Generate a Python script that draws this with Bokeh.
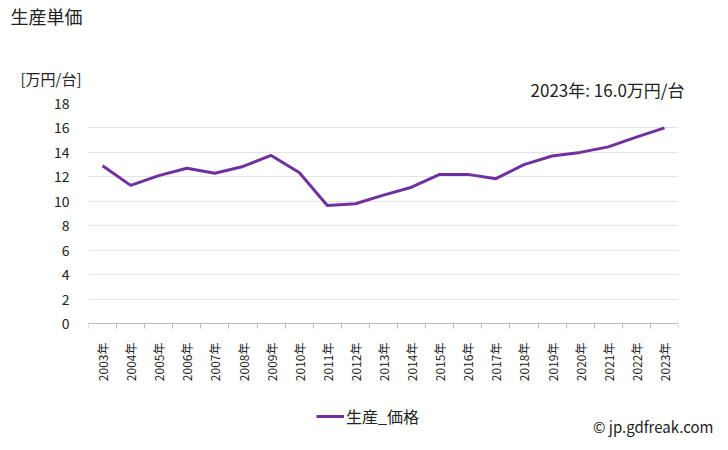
from bokeh.plotting import figure
from bokeh.models import (FixedTicker, Label, Legend, LegendItem, Range1d, ColumnDataSource)
from bokeh.embed import file_html
from bokeh.resources import INLINE
import math

years = list(range(2003, 2024))
year_labels = [f"{y}年" for y in years]
price = [12.9, 11.3, 12.1, 12.7, 12.3, 12.85, 13.75, 12.35, 9.65, 9.8,
         10.5, 11.15, 12.2, 12.2, 11.85, 13.0, 13.7, 14.0, 14.45, 15.25, 16.0]
y_ticks = [0, 2, 4, 6, 8, 10, 12, 14, 16, 18]

FONT = "Noto Sans CJK JP"
TXT = "#222222"
W, H = 728, 450
FL, FT, FB = 88, 103, 323  # plot area left, top, bottom (page pixels)
Y_TOP = 18
# the frame reaches the page bottom so that the legend below the axis stays visible
Y_MIN = -(H - FB) / ((FB - FT) / Y_TOP)

p = figure(width=W, height=H, output_backend="svg", toolbar_location=None,
           x_range=Range1d(years[0] - 0.5, years[-1] + 0.5),
           y_range=Range1d(Y_MIN, Y_TOP),
           min_border_left=FL, min_border_right=50, min_border_top=FT, min_border_bottom=0)
p.outline_line_color = None

src = ColumnDataSource(dict(x=years, y=price))
r = p.line("x", "y", source=src, line_color="#7030A0", line_width=3)

xa = p.xaxis[0]
xa.fixed_location = 0
xa.ticker = FixedTicker(ticks=years, minor_ticks=[y - 0.5 for y in years] + [years[-1] + 0.5])
xa.major_label_overrides = {y: l for y, l in zip(years, year_labels)}
xa.major_label_orientation = math.pi / 2
xa.major_tick_out = 0
xa.major_tick_in = 0
xa.minor_tick_out = 5
xa.minor_tick_in = 0
xa.minor_tick_line_color = "#BBBBBB"
xa.axis_line_color = "#BBBBBB"
xa.major_label_text_font = FONT
xa.major_label_text_font_size = "12px"
xa.major_label_text_color = TXT
xa.major_label_standoff = 14

ya = p.yaxis[0]
ya.ticker = FixedTicker(ticks=y_ticks)
ya.axis_line_color = None
ya.major_tick_line_color = None
ya.minor_tick_line_color = None
ya.major_label_text_font = FONT
ya.major_label_text_font_size = "14px"
ya.major_label_text_color = TXT
ya.major_label_standoff = 13

p.xgrid.grid_line_color = None
p.ygrid.grid_line_color = "#C8C8C8"
p.ygrid.grid_line_dash = "1 1"
p.ygrid.ticker = FixedTicker(ticks=y_ticks[1:])


def top_label(x, y, text, size, align="left"):
    # Labels in the "above" panel are not clipped; coordinates relative to the label's slot
    p.add_layout(Label(x=x, y=y, x_units="screen", y_units="screen", text=text,
                       text_align=align, text_baseline="alphabetic",
                       text_font=FONT, text_font_size=size, text_color=TXT), "above")


top_label(684 - FL, 14, f"{years[-1]}年: {price[-1]:.1f}万円/台", "17px", "right")
top_label(20 - FL, 0, "[万円/台]", "15px")
top_label(10 - FL, 42, "生産単価", "18px")
top_label(713 - FL, -395, "© jp.gdfreak.com", "15px", "right")

legend = Legend(items=[LegendItem(label="生産_価格", renderers=[r])],
                location=(316 - FL, H - 428), orientation="horizontal",
                label_text_font=FONT, label_text_font_size="16px", label_text_color=TXT,
                border_line_color=None, background_fill_alpha=0,
                glyph_width=28, glyph_height=20, label_height=20,
                label_standoff=2, padding=0, margin=0)
p.add_layout(legend)

open("out.html", "w").write(file_html(p, INLINE))
